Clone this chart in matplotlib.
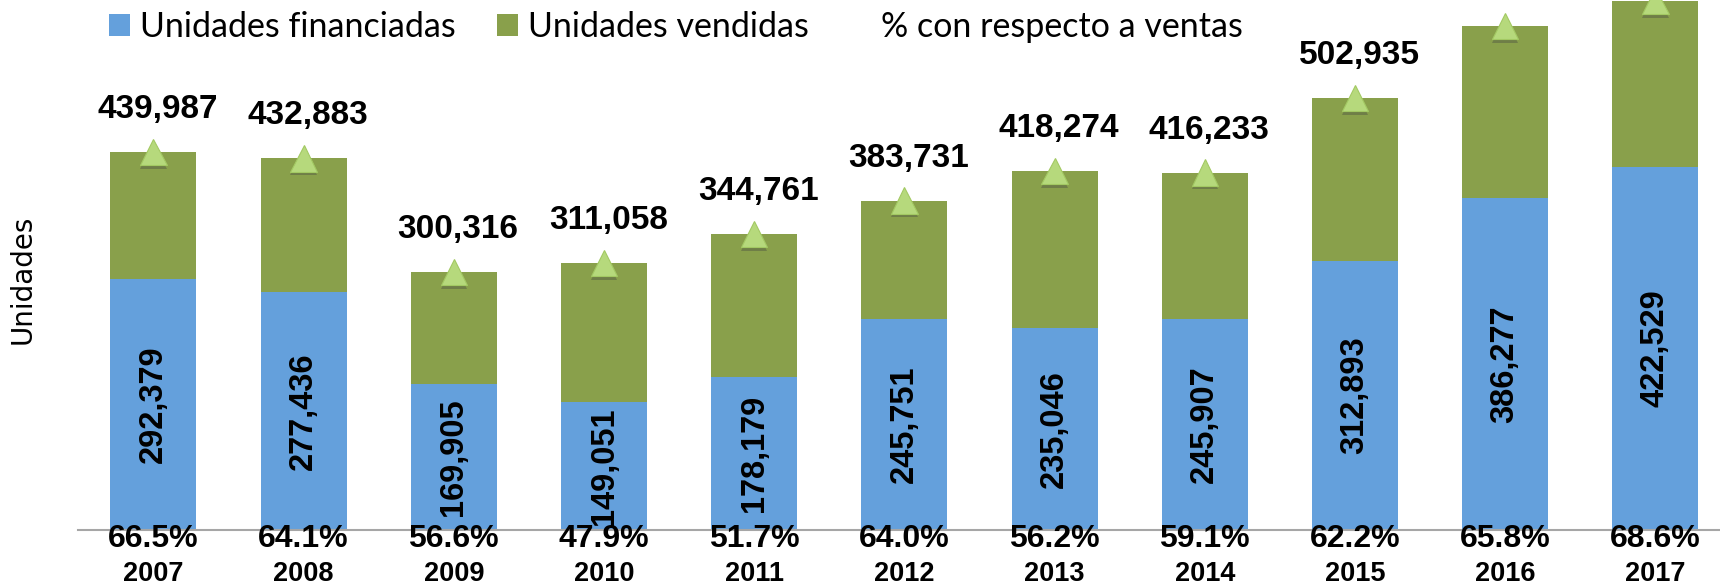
import matplotlib
matplotlib.use("Agg")
import matplotlib.pyplot as plt
import matplotlib.patheffects as pe
from matplotlib.patches import Patch
from matplotlib.lines import Line2D

years = ["2007", "2008", "2009", "2010", "2011", "2012", "2013", "2014", "2015", "2016", "2017"]
financiadas = [292379, 277436, 169905, 149051, 178179, 245751, 235046, 245907, 312893, 386277, 422529]
vendidas = [439987, 432883, 300316, 311058, 344761, 383731, 418274, 416233, 502935, 587047, 615931]
porcentaje = [66.5, 64.1, 56.6, 47.9, 51.7, 64.0, 56.2, 59.1, 62.2, 65.8, 68.6]

BLUE = "#64A0DC"
GREEN = "#89A04B"

W, H = 1720, 586
fig = plt.figure(figsize=(W / 100, H / 100), dpi=100)
ax = fig.add_axes([78.3 / W, 56 / H, 1652.2 / W, 601 / H])
ax.set_xlim(-0.5, len(years) - 0.5)
ax.set_ylim(0, 700000)

x = list(range(len(years)))
resto = [v - f for v, f in zip(vendidas, financiadas)]
ax.bar(x, financiadas, width=0.573, color=BLUE, zorder=2)
ax.bar(x, resto, bottom=financiadas, width=0.573, color=GREEN, zorder=2)

ax.plot(x, vendidas, linestyle="none", marker="^", ms=19,
        markerfacecolor="#B6D97C", markeredgecolor="#A3C963", markeredgewidth=0.8,
        zorder=4,
        path_effects=[pe.SimplePatchShadow(offset=(0, -2.5), shadow_rgbFace="#404040", alpha=0.35),
                      pe.Normal()])

BF = "Liberation Sans"
for i in x:
    ax.annotate(f"{vendidas[i]:,}", (i, vendidas[i]), xytext=(3, 24.5),
                textcoords="offset points", ha="center", va="baseline",
                family=BF, fontweight="bold", fontsize=24, zorder=5)
    ax.text(i, financiadas[i] / 2, f"{financiadas[i]:,}", rotation=90,
            ha="center", va="center", family=BF, fontweight="bold", fontsize=23.5, zorder=5)
    ax.annotate(f"{porcentaje[i]:.1f}%", (i, 0), xytext=(0, -12.5),
                textcoords="offset points", ha="center", va="baseline",
                family=BF, fontweight="bold", fontsize=23, zorder=5)

for s in ["top", "right", "left"]:
    ax.spines[s].set_visible(False)
ax.spines["bottom"].set_color("#A6A6A6")
ax.spines["bottom"].set_linewidth(1.5)
ax.spines["bottom"].set_zorder(3)
ax.set_yticks([])
ax.set_xticks(x)
ax.set_xticklabels(years, family=BF, fontweight="bold", fontsize=19.5)
ax.tick_params(axis="x", length=0, pad=22.5)

fig.text(23 / W, 1 - 279 / H, "Unidades", rotation=90, ha="center", va="center",
         family="DejaVu Sans", fontsize=20)

handles = [Patch(facecolor=BLUE), Patch(facecolor=GREEN), Line2D([], [], color="none")]
labels = ["Unidades financiadas", "Unidades vendidas", "% con respecto a ventas"]
fig.legend(handles, labels, ncol=3, loc="center left",
           bbox_to_anchor=(109 / W, 1 - 27 / H), frameon=False,
           prop=dict(family="Lato", size=24.5), borderpad=0, borderaxespad=0,
           handlelength=0.62, handleheight=0.62, handletextpad=0.3, columnspacing=1.2)

fig.savefig("out.png", dpi=100)
